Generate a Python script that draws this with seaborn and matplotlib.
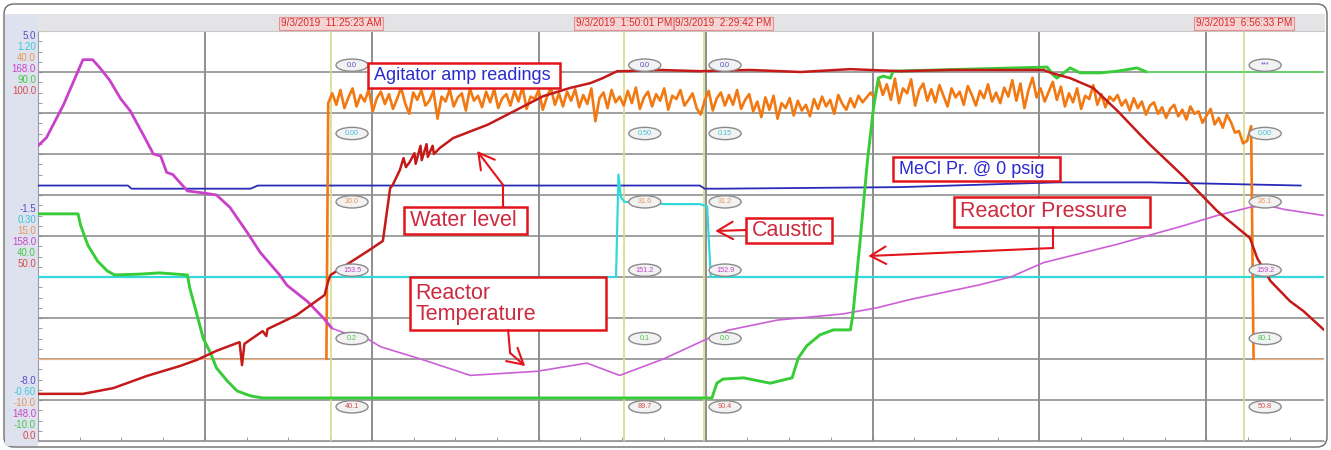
import numpy as np
import pandas as pd
import matplotlib.pyplot as plt
import matplotlib.transforms as mtransforms
import seaborn as sns
from matplotlib.patches import Rectangle, Ellipse, FancyBboxPatch

# --- trend window on 9/3/2019 (clock hours) ---
t_start, t_end = 9.01, 19.60

# --- cursors ---
cursor_clock = ["11:25:23", "13:50:01", "14:29:42", "18:56:33"]
cursor_stamp = ["9/3/2019  11:25:23 AM", "9/3/2019  1:50:01 PM",
                "9/3/2019  2:29:42 PM", "9/3/2019  6:56:33 PM"]
# bubble readings per cursor: MeCl, caustic, amps, temp, pressure, level
cursor_readings = [
    ["0.0", "0.00", "20.0", "153.5", "0.2", "40.1"],
    ["0.0", "0.50", "31.6", "151.2", "0.1", "89.7"],
    ["0.0", "0.15", "31.2", "152.9", "0.0", "90.4"],
    ["***", "0.00", "26.1", "159.2", "80.1", "50.8"],
]

# --- pen scales: MeCl, caustic, amps, temp, pressure, level ---
pen_top = [5.0, 1.20, 40.0, 168.0, 90.0, 100.0]
pen_bottom = [-8.0, -0.60, -10.0, 148.0, -10.0, 0.0]
top_labels = ["5.0", "1.20", "40.0", "168.0", "90.0", "100.0"]
mid_labels = ["-1.5", "0.30", "15.0", "158.0", "40.0", "50.0"]
bottom_labels = ["-8.0", "-0.60", "-10.0", "148.0", "-10.0", "0.0"]
pen_colors = ["#2a2ab8", "#33d8dc", "#f27812", "#c940c9", "#38cc38", "#c41a1a"]
label_colors = ["#5050c8", "#40c4d8", "#e8965a", "#c845c8", "#48c848", "#d44c4c"]

# --- MeCl pressure (psig) ---
mecl_t = [9.01, 9.75, 9.78, 10.76, 10.82, 14.46, 14.50, 14.63, 16.11, 17.40, 18.17, 19.41]
mecl_v = [0.1, 0.1, 0.0, 0.0, 0.1, 0.1, 0.0, 0.0, 0.05, 0.2, 0.2, 0.1]

# --- caustic ---
caustic_t = [9.01, 13.77, 13.79, 13.81, 13.84, 14.17, 14.46, 14.52, 14.55, 19.60]
caustic_v = [0.12, 0.12, 0.57, 0.47, 0.45, 0.44, 0.44, 0.43, 0.12, 0.12]

# --- agitator amps, logged every 2 min while running ---
amps_first = 11.40
amps_step_min = 2
amps = [
    31.2, 32.4, 31.0, 32.8, 30.6, 31.9, 33.0, 30.8, 32.2, 31.4, 32.9, 30.2, 31.8, 32.6, 31.1,
    32.3, 30.5, 31.7, 33.1, 31.2, 29.9, 32.5, 31.6, 32.8, 30.9, 31.5, 32.7, 29.3, 32.0, 31.4,
    32.9, 30.8, 31.9, 32.4, 30.3, 33.0, 31.5, 32.1, 30.7, 32.6, 31.3, 32.9, 30.6, 31.8, 32.3,
    30.9, 32.7, 31.4, 33.2, 30.5, 32.0, 31.7, 32.8, 30.4, 31.9, 33.1, 31.0, 32.4, 30.8, 32.6,
    31.5, 32.9, 30.7, 32.2, 31.1, 33.0, 29.0, 31.8, 32.5, 30.6, 32.8, 31.3, 32.0, 30.9, 32.7,
    31.2, 33.1, 30.5, 31.9, 32.6, 30.8, 32.3, 31.5, 33.0, 30.4, 32.1, 31.7, 32.8, 30.9, 31.6,
    32.4, 30.6, 29.8, 31.5, 32.7, 30.3, 31.8, 32.5, 30.9, 32.2, 31.0, 32.8, 30.5, 31.6, 32.3,
    30.2, 31.4, 29.5, 31.9, 30.4, 32.1, 29.3, 31.2, 30.6, 31.8, 29.7, 31.5, 30.3, 31.0, 29.6,
    31.7, 30.5, 32.0, 30.8, 31.6, 29.9, 32.2, 31.1, 30.4, 31.8, 30.7, 32.1, 31.3, 31.9, 32.5,
    31.8, 34.0, 32.2, 33.5, 31.6, 34.2, 31.2, 33.0, 32.4, 34.1, 30.9, 32.8, 33.6, 31.5, 32.9,
    31.3, 33.4, 32.1, 30.8, 33.0, 31.9, 32.6, 31.0, 33.3, 32.2, 30.9, 32.7, 31.8, 33.5, 31.4,
    32.5, 31.2, 33.1, 32.0, 34.0, 31.5, 33.6, 30.6, 32.8, 34.3, 31.9, 33.0, 31.4, 32.6, 33.8,
    31.6, 33.2, 30.8, 32.4, 31.3, 33.0, 30.5, 32.1, 31.7, 33.4, 31.0, 32.3, 30.7, 32.0, 31.5,
    32.2, 30.9, 31.6, 30.3, 31.8, 30.6, 31.4, 29.8, 30.9, 31.3, 29.9, 30.7, 29.4, 30.5, 31.0,
    29.6, 30.4, 29.2, 30.8, 29.9, 30.2, 28.8, 29.7, 30.5, 28.6, 29.4, 28.2, 29.8, 28.9, 27.6,
    27.8, 26.3, 26.6, 28.4,
]
amps_on_t, amps_off_t = 11.385, 19.02

# --- reactor temperature ---
temp_t = [9.01, 9.08, 9.22, 9.38, 9.46, 9.52, 9.60, 9.69, 9.77, 9.88, 9.96, 10.02, 10.07, 10.12,
          10.24, 10.37, 10.48, 10.59, 10.73, 10.84, 11.00, 11.06, 11.23, 11.36, 11.43, 11.52,
          11.69, 11.83, 12.16, 12.57, 13.12, 13.53, 13.80, 14.16, 14.49, 14.69, 15.10, 15.64,
          15.92, 16.19, 16.75, 17.02, 17.29, 17.90, 18.44, 18.72, 18.99, 19.13, 19.27, 19.60]
temp_v = [162.4, 162.8, 164.4, 166.6, 166.6, 166.2, 165.6, 164.7, 164.1, 162.9, 162.0, 161.9,
          161.1, 161.0, 160.2, 160.1, 160.0, 159.4, 158.2, 157.2, 156.1, 155.6, 154.8, 154.0,
          153.5, 153.3, 153.1, 152.6, 152.0, 151.2, 151.4, 151.8, 151.2, 152.0, 152.9, 153.4,
          153.9, 154.2, 154.5, 154.9, 155.6, 156.0, 156.7, 157.6, 158.5, 159.0, 159.4, 159.5,
          159.3, 159.0]

# --- reactor pressure ---
press_t = [9.01, 9.34, 9.36, 9.42, 9.50, 9.58, 9.64, 9.85, 10.01, 10.24, 10.26, 10.32, 10.37,
           10.43, 10.48, 10.57, 10.65, 10.76, 10.86, 14.56, 14.60, 14.65, 14.82, 15.04, 15.22,
           15.27, 15.34, 15.45, 15.56, 15.70, 15.72, 15.78, 15.84, 15.89, 15.93, 15.97, 16.03,
           16.05, 17.32, 17.37, 17.40, 17.51, 17.59, 17.76, 17.90, 18.06, 18.14, 19.60]
press_v = [45.4, 45.4, 42.7, 37.8, 33.9, 31.5, 30.5, 30.7, 31.0, 30.5, 27.3, 20.7, 15.1, 11.5,
           7.8, 4.6, 2.2, 1.0, 0.5, 0.5, 4.1, 5.1, 5.4, 4.1, 5.4, 10.2, 13.2, 15.9, 17.1, 17.1,
           20.7, 38.8, 58.3, 71.2, 78.5, 79.0, 78.5, 80.2, 81.2, 79.3, 78.5, 81.0, 79.8, 79.8,
           80.2, 81.0, 80.0, 80.0]

# --- water level ---
level_t = [9.01, 9.38, 9.63, 9.91, 10.18, 10.32, 10.48, 10.65, 10.67, 10.69, 10.71, 10.86, 10.89,
           10.90, 11.14, 11.37, 11.40, 11.42, 11.74, 11.85, 11.91, 11.93, 11.99, 12.02, 12.04,
           12.07, 12.11, 12.12, 12.16, 12.17, 12.21, 12.22, 12.26, 12.27, 12.32, 12.43, 12.71,
           12.98, 13.17, 13.39, 13.56, 13.66, 13.78, 13.83, 14.13, 14.46, 14.87, 15.29, 15.70,
           16.11, 16.52, 16.93, 17.29, 17.35, 17.51, 17.70, 17.90, 18.09, 18.17, 18.44, 18.72,
           18.99, 19.05, 19.16, 19.32, 19.43, 19.60]
level_v = [11.5, 11.5, 12.9, 15.9, 18.3, 19.8, 22.0, 23.9, 24.1, 18.5, 23.7, 26.8, 25.6, 27.3,
           30.7, 35.6, 39.0, 40.5, 46.6, 48.8, 61.7, 62.4, 66.1, 69.0, 66.8, 68.0, 70.2, 67.6,
           72.0, 68.5, 72.4, 69.3, 72.0, 70.0, 71.5, 73.9, 77.1, 81.2, 84.1, 86.1, 87.3, 88.5,
           90.2, 90.2, 90.5, 90.2, 90.5, 90.0, 90.7, 90.2, 90.5, 90.5, 90.5, 89.8, 88.5, 86.1,
           80.5, 74.6, 72.2, 64.6, 56.1, 49.5, 44.6, 39.0, 34.1, 31.7, 27.1]

sns.set_style("white")
plt.rcParams["font.family"] = ["Liberation Sans", "DejaVu Sans"]

W, H = 1331, 450
fig = plt.figure(figsize=(W / 100, H / 100), dpi=100)
pix = mtransforms.Affine2D().scale(1 / W, -1 / H).translate(0, 1) + fig.transFigure

# frame, header strip and pen-scale panel
fig.add_artist(FancyBboxPatch((4, 4), 1323, 443, boxstyle="round,pad=0,rounding_size=10",
                              transform=pix, fc="white", ec="#6a6a6a", lw=1.0, zorder=-2))
fig.add_artist(Rectangle((38, 14), 1287, 17, transform=pix, fc="#e4e4e6", ec="none", zorder=-1))
fig.add_artist(Rectangle((5, 14), 33, 432, transform=pix, fc="#dde2ee", ec="none", zorder=-1))

for k in range(6):
    for y0, labels in ((36, top_labels), (209, mid_labels), (381, bottom_labels)):
        fig.text(36, y0 + 11 * k, labels[k], transform=pix, ha="right", va="center",
                 fontsize=7, color=label_colors[k])

ax = fig.add_axes([38 / W, 9 / H, 1286 / W, 410 / H])
ax.set_facecolor("white")
div = 1.3745
ax.set_xticks(np.arange(t_start, t_end, div))
ax.set_xticks(np.arange(t_start, t_end, div / 4), minor=True)
ax.set_yticks(np.arange(0, 11, 1))
ax.set_yticks(np.arange(0, 10, 0.25), minor=True)
ax.xaxis.grid(True, which="major", color="#707070", lw=1.1)
ax.yaxis.grid(True, which="major", color="#909090", lw=1.2)
ax.tick_params(which="both", direction="in", length=3, color="#8a8a8a",
               labelleft=False, labelbottom=False, top=False, right=False, left=True, bottom=True)
for side, c in (("left", "#9a9aaa"), ("bottom", "#a0a0a0"), ("top", "#c8c8c8")):
    ax.spines[side].set_color(c)
ax.spines["right"].set_visible(False)

cursor_hours = [pd.to_timedelta(c).total_seconds() / 3600 for c in cursor_clock]
for t in cursor_hours:
    ax.axvline(t, color="#d8dc8a", lw=1.2, zorder=1)


def pen_axis(k):
    a = ax.twinx()
    a.set_axis_off()
    return a


def trace(a, x, y, color, lw):
    sns.lineplot(x=np.asarray(x, float), y=np.asarray(y, float), ax=a, color=color, lw=lw,
                 estimator=None, sort=False, legend=False)


pens = [pen_axis(k) for k in range(6)]

trace(pens[1], caustic_t, caustic_v, pen_colors[1], 1.6)
trace(pens[0], mecl_t, mecl_v, pen_colors[0], 1.3)

tt = np.array(temp_t)
tv = np.array(temp_v)
trace(pens[3], tt[tt <= 11.43], tv[tt <= 11.43], pen_colors[3], 2.0)
trace(pens[3], tt[tt >= 11.43], tv[tt >= 11.43], "#cc5fd6", 1.2)

pt = np.array(press_t)
pv = np.array(press_v)
trace(pens[4], pt[pt <= 18.14], pv[pt <= 18.14], pen_colors[4], 2.1)
trace(pens[4], pt[pt >= 18.14], pv[pt >= 18.14], "#5fdc5f", 1.1)

amp_t = amps_first + np.arange(len(amps)) * amps_step_min / 60
trace(pens[2], [t_start, amps_on_t], [0.0, 0.0], "#f3b27a", 0.9)
trace(pens[2], [amps_off_t, t_end], [0.0, 0.0], "#f3b27a", 0.9)
trace(pens[2], np.r_[amps_on_t, amp_t, amps_off_t], np.r_[0.0, amps, 0.0], pen_colors[2], 1.9)

trace(pens[5], level_t, level_v, pen_colors[5], 1.8)

for k, a in enumerate(pens):
    a.set_ylim(pen_bottom[k], pen_top[k])

# annotation layer (y in chart divisions 0..10)
top = ax.twinx()
top.set_axis_off()
top.set_ylim(0, 10)

# cursor time stamps
stamp_x = []
for t in cursor_hours:
    stamp_x.append(t if not stamp_x or t - stamp_x[-1] > 0.82 else stamp_x[-1] + 0.82)
for x, s in zip(stamp_x, cursor_stamp):
    top.text(x, 1.0195, s, transform=top.get_xaxis_transform(), ha="center", va="center",
             fontsize=7.2, color="#d42a2a", clip_on=False,
             bbox=dict(boxstyle="square,pad=0.15", fc="#f6d4d4", ec="#e69090", lw=0.8))

# cursor bubbles
for t, readings in zip(cursor_hours, cursor_readings):
    for k, r in enumerate(readings):
        y = 10 * (1 - (k + 0.5) / 6)
        top.add_patch(Ellipse((t + 0.173, y), 0.264, 0.30, fc="#f2f2f2", ec="#8a8a8a",
                              lw=1.0, zorder=4))
        top.text(t + 0.173, y, r, ha="center", va="center", fontsize=5.2,
                 color=label_colors[k], zorder=5)

RED = "#e3141c"
TXT_RED = "#cc2a3e"
TXT_BLUE = "#2b2bd0"
notes = [
    ("Agitator amp readings", 11.728, 13.310, 8.61, 9.22, TXT_BLUE, 13),
    ("MeCl Pr. @ 0 psig", 16.053, 17.428, 6.341, 6.927, TXT_BLUE, 13),
    ("Water level", 12.025, 13.038, 5.049, 5.707, TXT_RED, 15.5),
    ("Caustic", 14.842, 15.550, 4.829, 5.439, TXT_RED, 15.5),
    ("Reactor Pressure", 16.555, 18.170, 5.220, 5.951, TXT_RED, 15.5),
    ("Reactor\nTemperature", 12.074, 13.689, 2.707, 4.0, TXT_RED, 15.5),
]
for s, x0, x1, y0, y1, c, fs in notes:
    top.add_patch(Rectangle((x0, y0), x1 - x0, y1 - y0, fc="white", ec=RED, lw=1.8, zorder=6))
    top.text(x0 + 0.045, (y0 + y1) / 2, s, ha="left", va="center", fontsize=fs, color=c,
             linespacing=1.0, zorder=7)

arrow = dict(arrowstyle="->,head_length=0.8,head_width=0.45", color=RED, lw=1.5,
             shrinkA=0, shrinkB=0, mutation_scale=14)
# water level
top.plot([12.84, 12.84], [5.707, 6.244], color=RED, lw=1.5, zorder=6)
top.annotate("", xy=(12.626, 7.073), xytext=(12.84, 6.244), arrowprops=arrow, zorder=6)
# caustic
top.annotate("", xy=(14.587, 5.122), xytext=(14.842, 5.146), arrowprops=arrow, zorder=6)
# reactor pressure
top.plot([17.371, 17.371], [5.220, 4.707], color=RED, lw=1.5, zorder=6)
top.annotate("", xy=(15.847, 4.512), xytext=(17.371, 4.707), arrowprops=arrow, zorder=6)
# reactor temperature
top.plot([12.881, 12.898], [2.707, 2.146], color=RED, lw=1.5, zorder=6)
top.annotate("", xy=(13.022, 1.829), xytext=(12.898, 2.146), arrowprops=arrow, zorder=6)

ax.set_xlim(t_start, t_end)
ax.set_ylim(0, 10)

fig.savefig("out.png", dpi=100)
